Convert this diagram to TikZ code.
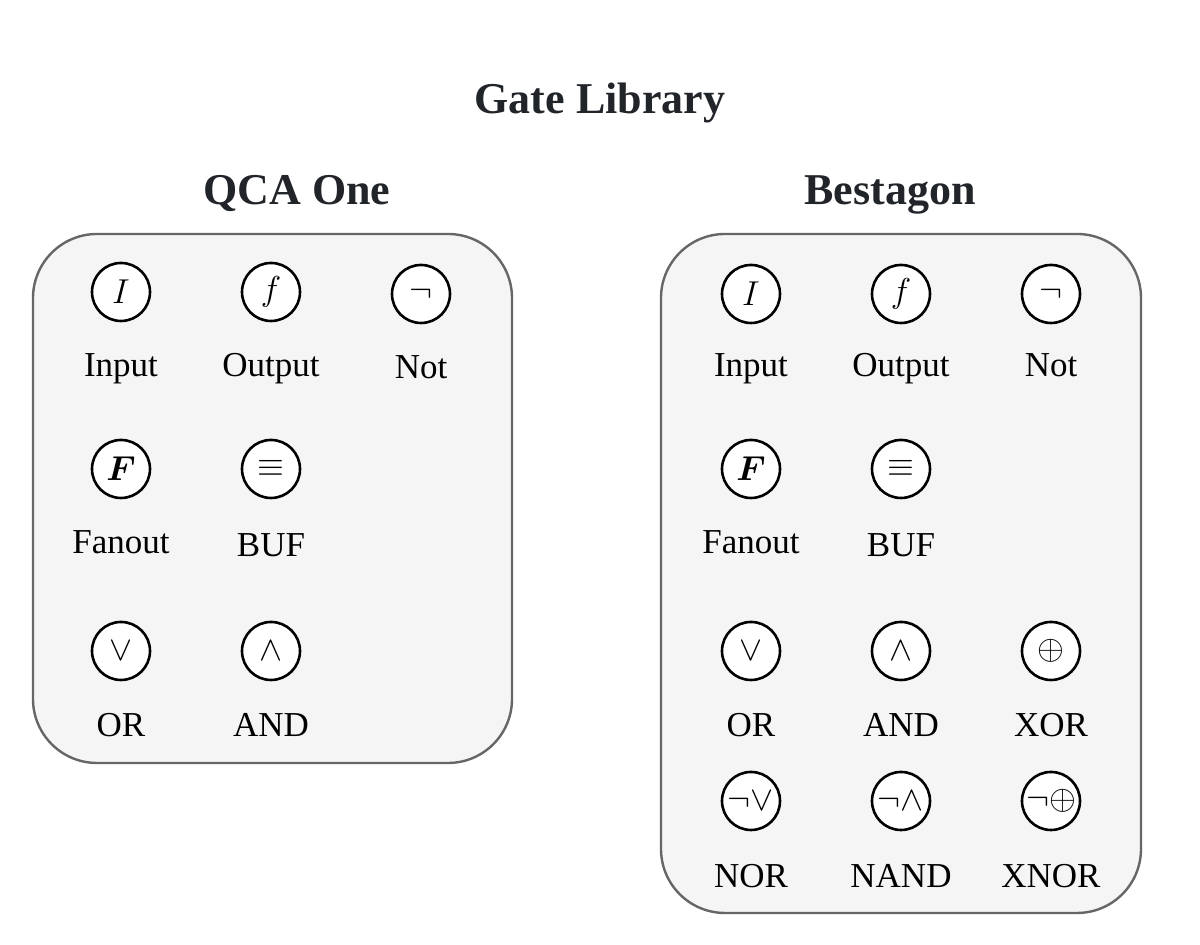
\documentclass[tikz,border=0pt]{standalone}
\usepackage{amsmath}
\usepackage{fontspec}
\setmainfont{Liberation Serif}
\usepackage{tikz}
\definecolor{boxgray}{HTML}{F5F5F5}
\definecolor{edgegray}{HTML}{666666}
\definecolor{titlegray}{HTML}{212529}

\begin{document}
\begin{tikzpicture}[x=0.5pt,y=0.5pt,
  gate/.style={circle,draw=black,line width=1.3pt,fill=white,minimum size=29pt,inner sep=0pt,font=\fontsize{17.5}{21}\selectfont},
  lbl/.style={anchor=base,font=\fontsize{17.5}{21}\selectfont},
  ttl/.style={anchor=base,text=titlegray,font=\fontsize{22}{26}\selectfont\bfseries},
  panel/.style={draw=edgegray,fill=boxgray,line width=1.2pt,rounded corners=32pt}]
\useasboundingbox (0,0) rectangle (1200,945);
%titres
\node[ttl] (title) at (600,831) {Gate Library};
\node[ttl] (qcaone) at (297,740) {QCA One};
\node[ttl] (bestagon) at (890,740) {Bestagon};
%cadres
\draw[panel] (33,182) rectangle (512,711);
\draw[panel] (661,32) rectangle (1141,711);
%QCA One
\node[gate] (qin) at (121,653) {$I$};
\node[gate] (qout) at (271,653) {$f$};
\node[gate] (qnot) at (421,651) {$\neg$};
\node[lbl] (qinl) at (121,568) {Input};
\node[lbl] (qoutl) at (271,568) {Output};
\node[lbl] (qnotl) at (421,566) {Not};
\node[gate] (qfan) at (121,476) {$\boldsymbol{F}$};
\node[gate] (qbuf) at (271,476) {\raisebox{-2pt}{$\equiv$}};
\node[lbl] (qfanl) at (121,391) {Fanout};
\node[lbl] (qbufl) at (271,388) {BUF};
\node[gate] (qor) at (121,294) {$\vee$};
\node[gate] (qand) at (271,294) {$\wedge$};
\node[lbl] (qorl) at (121,208) {OR};
\node[lbl] (qandl) at (271,208) {AND};
%Bestagon
\node[gate] (bin) at (751,651) {$I$};
\node[gate] (bout) at (901,651) {$f$};
\node[gate] (bnot) at (1051,651) {$\neg$};
\node[lbl] (binl) at (751,568) {Input};
\node[lbl] (boutl) at (901,568) {Output};
\node[lbl] (bnotl) at (1051,568) {Not};
\node[gate] (bfan) at (751,476) {$\boldsymbol{F}$};
\node[gate] (bbuf) at (901,476) {\raisebox{-2pt}{$\equiv$}};
\node[lbl] (bfanl) at (751,391) {Fanout};
\node[lbl] (bbufl) at (901,388) {BUF};
\node[gate] (bor) at (751,294) {$\vee$};
\node[gate] (band) at (901,294) {$\wedge$};
\node[gate] (bxor) at (1051,294) {$\oplus$};
\node[lbl] (borl) at (751,208) {OR};
\node[lbl] (bandl) at (901,208) {AND};
\node[lbl] (bxorl) at (1051,208) {XOR};
\node[gate] (bnor) at (751,144) {$\neg\vee$};
\node[gate] (bnand) at (901,144) {$\neg\wedge$};
\node[gate] (bxnor) at (1051,144) {$\neg\oplus$};
\node[lbl] (bnorl) at (751,57) {NOR};
\node[lbl] (bnandl) at (901,57) {NAND};
\node[lbl] (bxnorl) at (1051,57) {XNOR};
\end{tikzpicture}
\end{document}
